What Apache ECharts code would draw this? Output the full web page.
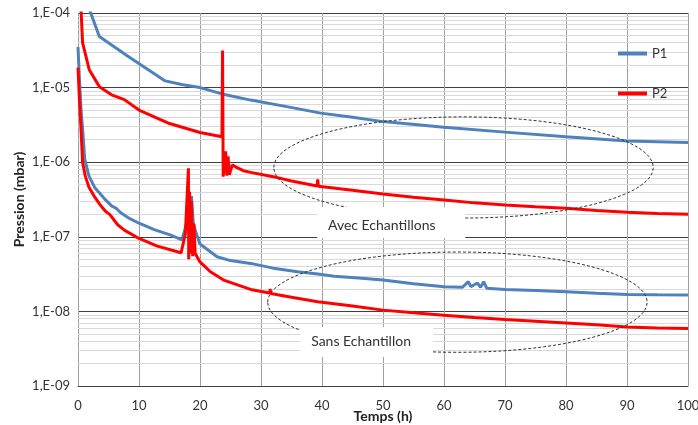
<!DOCTYPE html>
<html><head><meta charset="utf-8">
<script src="https://cdn.jsdelivr.net/npm/echarts@6/dist/echarts.min.js"></script>
<style>html,body{margin:0;padding:0;background:#fff}#c{width:698px;height:425px}</style>
</head><body><div id="c"></div>
<script>
// ---- data ----
const xTicks = [0, 10, 20, 30, 40, 50, 60, 70, 80, 90, 100];
const yTickLabels = ['1,E-09', '1,E-08', '1,E-07', '1,E-06', '1,E-05', '1,E-04'];
const legendNames = ['P1', 'P2'];

// P1 avec échantillons (blue, upper)
const p1AvecX = [1.9, 3.5, 8, 14.3, 17, 20, 24.2, 28.3, 34, 39.8, 45, 50, 60, 70, 80, 90, 100];
const p1AvecY = [1.1e-4, 4.85e-5, 2.7e-5, 1.23e-5, 1.1e-5, 1.0e-5, 8.0e-6, 6.8e-6, 5.6e-6, 4.55e-6, 4.0e-6, 3.5e-6, 2.95e-6, 2.53e-6, 2.2e-6, 1.93e-6, 1.83e-6];

// P2 avec échantillons (red, upper)
const p2AvecX = [0.5, 0.75, 1.85, 3.5, 5.5, 7.6, 10, 15, 20, 23.6, 23.7, 23.8, 24.2, 24.4, 24.6, 24.8, 25.3, 26, 27.1, 28.3, 32, 35, 39.2, 39.3, 39.4, 45, 50, 55, 60, 65, 70, 75, 80, 85, 90, 95, 100];
const p2AvecY = [1.1e-4, 4.0e-5, 1.73e-5, 1.03e-5, 8.0e-6, 6.9e-6, 5.0e-6, 3.3e-6, 2.5e-6, 2.2e-6, 3.15e-5, 6.4e-7, 1.4e-6, 6.6e-7, 1.2e-6, 6.8e-7, 9.2e-7, 8.5e-7, 7.7e-7, 7.3e-7, 6.4e-7, 5.6e-7, 4.8e-7, 5.9e-7, 4.75e-7, 4.2e-7, 3.76e-7, 3.4e-7, 3.12e-7, 2.85e-7, 2.67e-7, 2.53e-7, 2.41e-7, 2.25e-7, 2.13e-7, 2.05e-7, 2.0e-7];

// P1 sans échantillon (blue, lower)
const p1SansX = [0, 0.2, 0.5, 0.8, 1.1, 1.8, 2.8, 3.6, 4.4, 5.5, 5.8, 6.3, 7, 8.5, 10, 12.5, 15.1, 17.05, 18.1, 18.6, 18.9, 19.4, 20, 22.8, 25, 28.3, 32, 36, 39.3, 42, 46, 50, 55, 60, 63, 64, 64.4, 65.5, 66, 66.5, 67, 70, 75, 80, 85, 90, 95, 100];
const p1SansY = [3.5e-5, 1.5e-5, 5e-6, 2.5e-6, 1.1e-6, 6.5e-7, 4.5e-7, 3.8e-7, 3.2e-7, 2.6e-7, 2.6e-7, 2.4e-7, 2.1e-7, 1.75e-7, 1.52e-7, 1.25e-7, 1.06e-7, 9.1e-8, 1.86e-7, 3.5e-7, 1.5e-7, 1.1e-7, 8.0e-8, 5.4e-8, 4.8e-8, 4.4e-8, 3.8e-8, 3.4e-8, 3.17e-8, 2.95e-8, 2.8e-8, 2.63e-8, 2.35e-8, 2.14e-8, 2.1e-8, 2.5e-8, 2.15e-8, 2.4e-8, 2.1e-8, 2.5e-8, 2.05e-8, 1.97e-8, 1.9e-8, 1.83e-8, 1.75e-8, 1.69e-8, 1.67e-8, 1.66e-8];

// P2 sans échantillon (red, lower)
const p2SansX = [0, 0.2, 0.5, 0.75, 1.2, 1.8, 2.7, 3.6, 4.5, 4.8, 5.2, 6.5, 7.6, 10, 13, 16.9, 17.6, 18.1, 18.15, 18.3, 18.45, 18.6, 18.8, 19, 19.2, 20, 21.7, 24, 28.3, 31.4, 31.5, 31.6, 35, 39.3, 45, 50, 55, 60, 65, 70, 75, 80, 85, 90, 95, 100];
const p2SansY = [1.85e-5, 8e-6, 2.7e-6, 1e-6, 6.5e-7, 4.6e-7, 3.45e-7, 2.7e-7, 2.2e-7, 2.25e-7, 2.0e-7, 1.45e-7, 1.23e-7, 9.5e-8, 7.5e-8, 6.1e-8, 1.1e-7, 8.3e-7, 5e-8, 4e-7, 6e-8, 3e-7, 5.5e-8, 1.5e-7, 6e-8, 4.6e-8, 3.4e-8, 2.6e-8, 1.97e-8, 1.76e-8, 2.0e-8, 1.74e-8, 1.55e-8, 1.35e-8, 1.18e-8, 1.04e-8, 9.6e-9, 8.9e-9, 8.3e-9, 7.8e-9, 7.4e-9, 7.0e-9, 6.6e-9, 6.2e-9, 6.0e-9, 5.9e-9];

// annotations (data coordinates)
const annotLabels = ['Avec Echantillons', 'Sans Echantillon'];
const annotTextX = [49.8, 46.4];
const annotTextY = [1.44e-7, 3.9e-9];
const ellipseCX = [63.2, 62.2];
const ellipseCY = [8.5e-7, 1.33e-8];
const ellipseRX = [31.1, 31.1];      // in hours
const ellipseRYdec = [0.678, 0.672]; // in decades

// ---- build ----
const zip = (xs, ys) => xs.map((x, i) => [x, ys[i]]);
const FONT = 'Lato, "Open Sans", sans-serif';
const BLUE = '#4F81BD', RED = '#FF0000';
const X0 = xTicks[0], X1 = xTicks[xTicks.length - 1];

// minor log gridlines (2..9 of each decade)
const minorLines = [];
for (let e = -9; e <= -5; e++) for (let k = 2; k <= 9; k++) {
  const v = k * Math.pow(10, e);
  minorLines.push({ coords: [[X0, v], [X1, v]] });
}

const chart = echarts.init(document.getElementById('c'), null, { renderer: 'canvas' });
const lineSeries = (name, data, color) => ({
  type: 'line', name, data, symbol: 'none', showSymbol: false, clip: true,
  lineStyle: { color, width: 3 }, itemStyle: { color }, z: 3, animation: false
});
chart.setOption({
  animation: false,
  backgroundColor: '#fff',
  grid: { left: 78, right: 10, top: 13, bottom: 39, containLabel: false, outerBoundsMode: 'none' },
  legend: {
    data: legendNames, orient: 'vertical', left: 613, top: 42,
    icon: 'rect', itemWidth: 29, itemHeight: 4, itemGap: 27,
    textStyle: { fontFamily: FONT, fontSize: 13, color: '#333' }
  },
  xAxis: {
    type: 'value', min: X0, max: X1, interval: 10,
    name: 'Temps (h)', nameLocation: 'middle', nameGap: 23, nameMoveOverlap: false,
    nameTextStyle: { fontFamily: FONT, fontSize: 14, fontWeight: 'bold', color: '#222' },
    axisLine: { lineStyle: { color: '#404040', width: 1 } },
    axisTick: { show: false },
    axisLabel: { fontFamily: FONT, fontSize: 13, color: '#333', margin: 13 },
    splitLine: { show: true, lineStyle: { color: '#a0a0a0', width: 1 } }
  },
  yAxis: {
    type: 'log', logBase: 10, min: 1e-9, max: 1e-4,
    name: 'Pression (mbar)', nameLocation: 'middle', nameGap: 52, nameMoveOverlap: false,
    nameTextStyle: { fontFamily: FONT, fontSize: 14, fontWeight: 'bold', color: '#222' },
    axisLine: { show: true, lineStyle: { color: '#a0a0a0', width: 1 } },
    axisTick: { show: false },
    axisLabel: {
      fontFamily: FONT, fontSize: 13, color: '#333', margin: 8,
      formatter: v => yTickLabels[Math.round(Math.log10(v)) + 9]
    },
    splitLine: { show: true, lineStyle: { color: ['#404040', '#404040', '#404040', '#404040', '#404040', '#a0a0a0'], width: 1 } }
  },
  series: [
    {
      type: 'lines', coordinateSystem: 'cartesian2d', name: 'minor', z: 1, silent: true,
      animation: false, polyline: false, effect: { show: false },
      lineStyle: { color: '#d9d9d9', width: 1, opacity: 1 },
      data: minorLines
    },
    lineSeries('P1', zip(p1AvecX, p1AvecY), BLUE),
    lineSeries('P1', zip(p1SansX, p1SansY), BLUE),
    lineSeries('P2', zip(p2AvecX, p2AvecY), RED),
    lineSeries('P2', zip(p2SansX, p2SansY), RED)
  ]
});

// annotations positioned through the axes
const px = p => chart.convertToPixel({ gridIndex: 0 }, p);
const boxLeft = [64.5, 61], boxTop = [18, 15], boxW = [148, 133], boxH = [31, 30];
const graphics = [];
annotLabels.forEach((lab, i) => {
  const c = px([ellipseCX[i], ellipseCY[i]]);
  const rx = px([ellipseCX[i] + ellipseRX[i], ellipseCY[i]])[0] - c[0];
  const ry = c[1] - px([ellipseCX[i], ellipseCY[i] * Math.pow(10, ellipseRYdec[i])])[1];
  graphics.push({
    type: 'ellipse', shape: { cx: c[0], cy: c[1], rx, ry }, z: 4, silent: true,
    style: { fill: null, stroke: '#333', lineWidth: 1, lineDash: [3, 2] }
  });
  const t = px([annotTextX[i], annotTextY[i]]);
  graphics.push({
    type: 'rect', shape: { x: t[0] - boxLeft[i], y: t[1] - boxTop[i], width: boxW[i], height: boxH[i] },
    z: 5, silent: true, style: { fill: '#fff', stroke: null }
  });
  graphics.push({
    type: 'text', x: t[0], y: t[1], z: 6, silent: true,
    style: { text: lab, fill: '#333', font: '14px ' + FONT, align: 'center', verticalAlign: 'middle' }
  });
});
chart.setOption({ graphic: graphics });
</script>
</body></html>
